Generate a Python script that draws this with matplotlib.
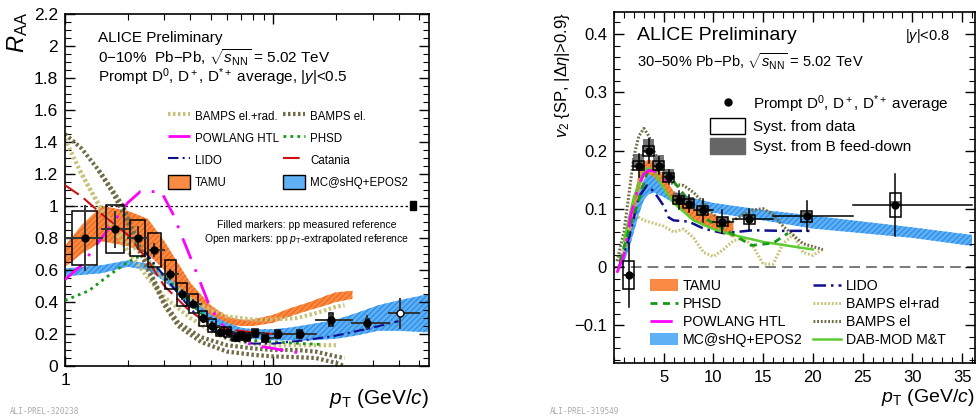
import numpy as np
import matplotlib
matplotlib.use("Agg")
import matplotlib.pyplot as plt
from matplotlib.legend import Legend
from matplotlib.patches import Rectangle, Patch
from matplotlib.lines import Line2D
from matplotlib.ticker import FixedLocator, MultipleLocator, NullFormatter

plt.rcParams['font.family'] = ['Liberation Sans', 'DejaVu Sans']
plt.rcParams['mathtext.fontset'] = 'custom'
plt.rcParams['mathtext.rm'] = 'Liberation Sans'
plt.rcParams['mathtext.it'] = 'Liberation Sans:italic'

# ---------------- left panel: R_AA 0-10% ----------------
raa_pt = [1.25, 1.74, 2.23, 2.69, 3.2, 3.65, 4.14, 4.62, 5.09, 5.56, 6.05, 6.59, 7.0, 7.47,
          8.2, 9.15, 10.5, 13.4, 18.9, 28.3, 40.5]
raa_lo = [1, 1.5, 2, 2.5, 3, 3.5, 4, 4.5, 5, 5.5, 6, 6.5, 7, 7.5, 8, 9, 10, 12, 16, 24, 36]
raa_hi = [1.5, 2, 2.5, 3, 3.5, 4, 4.5, 5, 5.5, 6, 6.5, 7, 7.5, 8, 9, 10, 12, 16, 24, 36, 50]
raa_val = [0.80, 0.855, 0.80, 0.725, 0.573, 0.448, 0.39, 0.298, 0.252, 0.215, 0.212, 0.18, 0.185,
           0.18, 0.205, 0.178, 0.20, 0.20, 0.29, 0.27, 0.33]
raa_stat = [0.2, 0.11, 0.07, 0.04, 0.03, 0.03, 0.02, 0.02, 0.02, 0.02, 0.02, 0.02, 0.02, 0.02,
            0.02, 0.02, 0.02, 0.02, 0.04, 0.04, 0.09]
raa_syst = [0.17, 0.15, 0.115, 0.105, 0.09, 0.07, 0.06, 0.045, 0.04, 0.03, 0.03, 0.025, 0.025,
            0.025, 0.025, 0.025, 0.025, 0.025, 0.04, 0.025, 0.0]
raa_open = [False] * 20 + [True]

tamu_pt = [1.0, 1.2, 1.5, 2.0, 2.5, 3.0, 3.5, 4.0, 5.0, 6.0, 7.0, 8.0, 10, 12, 15, 18, 20, 24]
tamu_up = [0.75, 0.88, 1.0, 0.97, 0.92, 0.78, 0.64, 0.52, 0.38, 0.31, 0.29, 0.29, 0.32, 0.36, 0.40, 0.44, 0.46, 0.47]
tamu_dn = [0.62, 0.70, 0.78, 0.75, 0.70, 0.60, 0.48, 0.40, 0.30, 0.26, 0.25, 0.25, 0.27, 0.31, 0.35, 0.38, 0.40, 0.42]

mcs_pt = [1.0, 1.5, 2.0, 2.5, 3.0, 3.5, 4.0, 5.0, 6.0, 7.0, 8.0, 10, 12, 15, 20, 25, 32, 40, 56]
mcs_up = [0.61, 0.63, 0.66, 0.64, 0.58, 0.50, 0.43, 0.32, 0.27, 0.24, 0.23, 0.23, 0.24, 0.26, 0.29, 0.33, 0.38, 0.41, 0.45]
mcs_dn = [0.56, 0.58, 0.62, 0.60, 0.53, 0.45, 0.38, 0.27, 0.21, 0.18, 0.17, 0.16, 0.16, 0.16, 0.17, 0.19, 0.22, 0.22, 0.21]

bampsr_pt1 = [1, 1.2, 1.5, 2, 2.5, 3, 4, 5, 6, 8, 10, 13, 16, 20, 22]
bampsr_v1 = [1.42, 1.2, 0.97, 0.78, 0.66, 0.55, 0.42, 0.35, 0.31, 0.29, 0.29, 0.30, 0.33, 0.37, 0.38]
bampsr_pt2 = [1.18, 1.5, 2, 2.5, 3, 4, 5, 6, 8, 10, 13, 16, 20]
bampsr_v2 = [1.22, 0.98, 0.72, 0.55, 0.43, 0.30, 0.22, 0.17, 0.14, 0.13, 0.13, 0.13, 0.13]

bampse_pt1 = [1, 1.2, 1.5, 1.9, 2.5, 3, 3.5, 4.5, 6, 8, 10, 13, 16, 20, 22]
bampse_v1 = [1.45, 1.36, 1.2, 1.0, 0.62, 0.40, 0.27, 0.18, 0.13, 0.11, 0.10, 0.10, 0.09, 0.06, 0.05]
bampse_pt2 = [1.45, 1.7, 2, 2.5, 3, 3.5, 4.5, 6, 8, 10, 13, 16, 20, 22]
bampse_v2 = [1.22, 1.08, 0.9, 0.6, 0.38, 0.25, 0.15, 0.09, 0.07, 0.06, 0.055, 0.05, 0.02, 0.0]

powl_pt = [1, 1.2, 1.5, 2, 2.3, 2.9, 3.3, 4, 5, 6, 7, 8, 10, 12, 14]
powl_v = [0.54, 0.63, 0.80, 1.02, 1.09, 1.09, 0.95, 0.68, 0.36, 0.22, 0.16, 0.13, 0.11, 0.09, 0.08]

phsd_pt = [1, 1.3, 1.6, 2.0, 2.4, 3, 4, 5, 6, 8, 10, 14, 17]
phsd_v = [0.41, 0.47, 0.56, 0.65, 0.70, 0.56, 0.40, 0.27, 0.20, 0.16, 0.15, 0.14, 0.135]

lido_pt = [2.4, 3, 4, 5, 6, 8, 10, 14, 20, 30, 40]
lido_v = [0.72, 0.56, 0.36, 0.23, 0.17, 0.14, 0.14, 0.16, 0.19, 0.24, 0.28]

cat_pt = [1, 1.2, 1.5, 2, 2.5, 3, 4, 5, 6, 8, 10, 12]
cat_v = [1.13, 1.06, 0.95, 0.82, 0.66, 0.50, 0.34, 0.26, 0.23, 0.21, 0.20, 0.20]

# ---------------- right panel: v2 30-50% ----------------
v2_pt = [1.5, 2.5, 3.5, 4.5, 5.5, 6.5, 7.5, 8.9, 10.9, 13.6, 19.4, 28.3]
v2_lo = [1, 2, 3, 4, 5, 6, 7, 8, 10, 12, 16, 24]
v2_hi = [2, 3, 4, 5, 6, 7, 8, 10, 12, 16, 24, 36]
v2_val = [-0.014, 0.174, 0.199, 0.174, 0.154, 0.115, 0.109, 0.097, 0.078, 0.082, 0.087, 0.106]
v2_stat = [0.055, 0.02, 0.02, 0.015, 0.012, 0.015, 0.015, 0.02, 0.02, 0.018, 0.026, 0.053]
v2_syst = [0.024, 0.008, 0.008, 0.008, 0.008, 0.007, 0.007, 0.007, 0.008, 0.008, 0.009, 0.021]
v2_fd_up = [0.0, 0.02, 0.02, 0.018, 0.015, 0.012, 0.012, 0.01, 0.008, 0.008, 0.008, 0.008]
v2_fd_dn = [0.0, 0.004, 0.004, 0.004, 0.003, 0.003, 0.003, 0.003, 0.002, 0.002, 0.002, 0.002]

tamu2_pt = [0.5, 1, 1.5, 2, 2.5, 3, 3.5, 4, 5, 6, 7, 8, 9, 10, 11, 12]
tamu2_up = [0.01, 0.03, 0.07, 0.12, 0.16, 0.18, 0.185, 0.18, 0.155, 0.13, 0.115, 0.10, 0.095, 0.09, 0.085, 0.075]
tamu2_dn = [0.0, 0.02, 0.05, 0.09, 0.13, 0.155, 0.16, 0.155, 0.135, 0.11, 0.095, 0.08, 0.07, 0.065, 0.06, 0.05]

mcs2_pt = [0.8, 1.5, 2, 2.5, 3, 3.5, 4, 5, 6, 8, 10, 12, 15, 20, 25, 30, 36]
mcs2_up = [0.01, 0.05, 0.09, 0.13, 0.15, 0.16, 0.158, 0.145, 0.13, 0.118, 0.11, 0.105, 0.098, 0.088, 0.078, 0.068, 0.055]
mcs2_dn = [0.0, 0.03, 0.06, 0.09, 0.115, 0.125, 0.128, 0.12, 0.11, 0.10, 0.093, 0.088, 0.08, 0.066, 0.058, 0.05, 0.036]

phsd2_pt = [0.6, 1.6, 2.4, 3.4, 4.4, 5.9, 7.7, 9.5, 11.3, 13.8, 16.0, 17.5]
phsd2_v = [0.01, 0.07, 0.11, 0.166, 0.166, 0.149, 0.11, 0.08, 0.063, 0.037, 0.041, 0.058]

powl2_pt = [0.3, 1, 1.7, 2.5, 3, 3.5, 4, 4.5, 5.4]
powl2_v = [-0.01, 0.02, 0.09, 0.14, 0.16, 0.166, 0.165, 0.16, 0.146]

lido2_pt = [0.5, 1.5, 2.5, 3.3, 4, 5, 5.5, 6, 7.5, 9, 11, 14, 17, 20]
lido2_v = [0.0, 0.05, 0.12, 0.14, 0.13, 0.105, 0.085, 0.08, 0.078, 0.066, 0.058, 0.063, 0.062, 0.062]

dab_pt = [1, 2, 3, 3.5, 4, 5, 6, 8, 10, 12, 15, 20]
dab_v = [0.045, 0.12, 0.165, 0.17, 0.165, 0.135, 0.11, 0.08, 0.065, 0.055, 0.043, 0.03]

br2_pt = [0.3, 1, 1.5, 2, 2.5, 3, 4, 5, 6, 7, 8, 9, 10, 11, 12, 13, 14, 15, 16, 17, 18, 19, 20, 21]
br2_v = [0.01, 0.03, 0.07, 0.09, 0.085, 0.08, 0.075, 0.07, 0.06, 0.065, 0.05, 0.025, 0.018, 0.03,
         0.045, 0.05, 0.035, 0.005, 0.005, 0.04, 0.055, 0.025, 0.02, 0.03]

be2_pt = [0.3, 1, 2, 2.5, 3, 3.5, 4, 5, 5.5, 6, 7, 8, 9, 10, 11, 12, 13, 14, 15, 16, 17, 18, 19, 20, 21]
be2_v = [0.01, 0.06, 0.19, 0.225, 0.238, 0.225, 0.2, 0.16, 0.148, 0.142, 0.14, 0.128, 0.11, 0.09,
         0.075, 0.08, 0.09, 0.098, 0.1, 0.09, 0.07, 0.055, 0.04, 0.035, 0.03]

c_tamu = '#f98b44'
c_tamu_h = '#f26a1b'
c_mcs = '#5fb0f5'
c_mcs_h = '#2f8fe8'
c_br = '#c9c27c'
c_be = '#6f6c47'
c_powl = '#ff00ff'
c_phsd = '#139a13'
c_lido = '#10108f'
c_cat = '#cc1010'
c_dab = '#5ecb32'

fig = plt.figure(figsize=(9.8, 4.18), dpi=100)


def root_ticks(ax):
    ax.tick_params(which='both', direction='in', top=True, right=True)
    ax.tick_params(which='major', length=7, width=1)
    ax.tick_params(which='minor', length=4, width=0.8)
    for s in ax.spines.values():
        s.set_linewidth(1.2)


def add_leg(ax, handles, labels, anchor, **kw):
    leg = Legend(ax, handles, labels, frameon=False, loc='upper left', bbox_to_anchor=anchor,
                 bbox_transform=ax.transAxes, borderaxespad=0, borderpad=0, **kw)
    ax.add_artist(leg)
    return leg


# ================= left panel =================
ax1 = fig.add_axes([65 / 980, 1 - 366 / 418, 364 / 980, 352 / 418])
ax1.set_xscale('log')
ax1.set_xlim(1, 56)
ax1.set_ylim(0, 2.2)

ax1.fill_between(tamu_pt, tamu_dn, tamu_up, facecolor=c_tamu, edgecolor=c_tamu_h,
                 hatch='//////', linewidth=0, zorder=1)
ax1.fill_between(mcs_pt, mcs_dn, mcs_up, facecolor=c_mcs, edgecolor=c_mcs_h,
                 hatch='//////', linewidth=0, zorder=1)
ax1.plot(bampsr_pt1, bampsr_v1, color=c_br, lw=3, ls=(0, (0.6, 0.6)), zorder=2)
ax1.plot(bampsr_pt2, bampsr_v2, color=c_br, lw=3, ls=(0, (0.6, 0.6)), zorder=2)
ax1.plot(bampse_pt1, bampse_v1, color=c_be, lw=3, ls=(0, (0.6, 0.6)), zorder=2)
ax1.plot(bampse_pt2, bampse_v2, color=c_be, lw=3, ls=(0, (0.6, 0.6)), zorder=2)
ax1.plot(powl_pt, powl_v, color=c_powl, lw=2, ls=(0, (8, 4, 1, 4)), zorder=3)
ax1.plot(phsd_pt, phsd_v, color=c_phsd, lw=2, ls=(0, (1, 1.5)), zorder=3)
ax1.plot(lido_pt, lido_v, color=c_lido, lw=1.5, ls=(0, (5, 2, 1, 2)), zorder=3)
ax1.plot(cat_pt, cat_v, color=c_cat, lw=1.5, ls=(0, (8, 3)), zorder=3)

ax1.axhline(1, color='black', lw=0.9, ls=(0, (2, 2)), xmax=0.955, zorder=1)
ax1.add_patch(Rectangle((45.5, 0.975), 3.0, 0.055, facecolor='black', edgecolor='black', zorder=5))

for i in range(len(raa_pt)):
    pt = raa_pt[i]
    hw = 0.15 + 0.014 * pt
    if raa_syst[i] > 0:
        ax1.add_patch(Rectangle((pt - hw, raa_val[i] - raa_syst[i]), 2 * hw, 2 * raa_syst[i],
                                fill=False, edgecolor='black', lw=1.1, zorder=5))
    ax1.plot([raa_lo[i], raa_hi[i]], [raa_val[i], raa_val[i]], color='#333333', lw=1.4, zorder=6)
    ax1.plot([pt, pt], [raa_val[i] - raa_stat[i], raa_val[i] + raa_stat[i]], color='#333333',
             lw=1.4, zorder=6)
    ax1.plot(pt, raa_val[i], 'o', ms=5, mfc='white' if raa_open[i] else 'black',
             mec='black', mew=1.0, zorder=7)

ax1.xaxis.set_major_locator(FixedLocator([1, 10]))
ax1.set_xticklabels(['1', '10'])
ax1.xaxis.set_minor_locator(FixedLocator([2, 3, 4, 5, 6, 7, 8, 9, 20, 30, 40, 50]))
ax1.xaxis.set_minor_formatter(NullFormatter())
ax1.set_yticks(np.arange(0, 2.21, 0.2))
ax1.set_yticklabels(['0', '0.2', '0.4', '0.6', '0.8', '1', '1.2', '1.4', '1.6', '1.8', '2', '2.2'])
ax1.yaxis.set_minor_locator(MultipleLocator(0.05))
root_ticks(ax1)
ax1.tick_params(which='major', labelsize=12.5, pad=5)

ax1.text(0.09, 0.933, 'ALICE Preliminary', transform=ax1.transAxes, fontsize=11, va='center')
ax1.text(0.09, 0.877, r'0$-$10%  Pb$-$Pb, $\sqrt{s_{\rm NN}}$ = 5.02 TeV', transform=ax1.transAxes,
         fontsize=11, va='center')
ax1.text(0.09, 0.82, r'Prompt D$^0$, D$^+$, D$^{*+}$ average, |$y$|<0.5', transform=ax1.transAxes,
         fontsize=11, va='center')
ax1.text(0.665, 0.40, 'Filled markers: pp measured reference', transform=ax1.transAxes,
         fontsize=7.5, ha='center', va='center')
ax1.text(0.665, 0.362, r'Open markers: pp $p_{\rm T}$-extrapolated reference', transform=ax1.transAxes,
         fontsize=7.5, ha='center', va='center')

leg_kw_l = dict(fontsize=8.3, handlelength=1.9, handleheight=1.5, labelspacing=0.68,
                handletextpad=0.45)
add_leg(ax1,
        [Line2D([], [], color=c_br, lw=3, ls=(0, (0.6, 0.6))),
         Line2D([], [], color=c_powl, lw=2, ls=(0, (8, 4, 1, 4))),
         Line2D([], [], color=c_lido, lw=1.5, ls=(0, (5, 2, 1, 2))),
         Patch(facecolor=c_tamu, edgecolor='black', lw=1)],
        ['BAMPS el.+rad.', 'POWLANG HTL', 'LIDO', 'TAMU'],
        ((168 - 65) / 364, (366 - 109) / 352), **leg_kw_l)
add_leg(ax1,
        [Line2D([], [], color=c_be, lw=3, ls=(0, (0.6, 0.6))),
         Line2D([], [], color=c_phsd, lw=2, ls=(0, (1, 1.5))),
         Line2D([], [], color=c_cat, lw=1.5, ls=(0, (8, 3))),
         Patch(facecolor=c_mcs, edgecolor='black', lw=1)],
        ['BAMPS el.', 'PHSD', 'Catania', 'MC@sHQ+EPOS2'],
        ((283 - 65) / 364, (366 - 109) / 352), **leg_kw_l)

fig.text(18 / 980, 1 - 12 / 418, r'$R_{\rm AA}$', rotation=90, fontsize=17, ha='center', va='top')
fig.text(429 / 980, 1 - 398 / 418, r'$p_{\rm T}$ (GeV/$c$)', fontsize=15, ha='right', va='center')
fig.text(10 / 980, 4 / 418, 'ALI-PREL-320238', fontsize=5.5, color='#aaaaaa', family='DejaVu Sans Mono')

# ================= right panel =================
ax2 = fig.add_axes([614 / 980, 1 - 363 / 418, 361 / 980, 351 / 418])
ax2.set_xlim(0, 36.3)
ax2.set_ylim(-0.165, 0.438)

ax2.axhline(0, color='#555555', lw=1.1, ls=(0, (7, 4)), zorder=1)
ax2.fill_between(mcs2_pt, mcs2_dn, mcs2_up, facecolor=c_mcs, edgecolor=c_mcs_h,
                 hatch='//////', linewidth=0, zorder=1)
ax2.fill_between(tamu2_pt, tamu2_dn, tamu2_up, facecolor=c_tamu, edgecolor=c_tamu_h,
                 hatch='//////', linewidth=0, zorder=2)
ax2.plot(br2_pt, br2_v, color=c_br, lw=2.2, ls=(0, (0.6, 0.6)), zorder=3)
ax2.plot(be2_pt, be2_v, color=c_be, lw=2.2, ls=(0, (0.6, 0.6)), zorder=3)
ax2.plot(lido2_pt, lido2_v, color=c_lido, lw=1.8, ls=(0, (5, 2, 1, 2)), zorder=4)
ax2.plot(dab_pt, dab_v, color=c_dab, lw=1.8, zorder=4)
ax2.plot(phsd2_pt, phsd2_v, color=c_phsd, lw=2, ls=(0, (2.5, 2)), zorder=4)
ax2.plot(powl2_pt, powl2_v, color=c_powl, lw=2, ls=(0, (8, 4, 1, 4)), zorder=4)

for i in range(len(v2_pt)):
    pt = v2_pt[i]
    hw = 0.55
    ax2.add_patch(Rectangle((pt - hw, v2_val[i] - v2_fd_dn[i]), 2 * hw, v2_fd_up[i] + v2_fd_dn[i],
                            facecolor='#666666', edgecolor='none', alpha=0.9, zorder=5))
    ax2.add_patch(Rectangle((pt - hw, v2_val[i] - v2_syst[i]), 2 * hw, 2 * v2_syst[i],
                            fill=False, edgecolor='black', lw=1.1, zorder=6))
    ax2.plot([v2_lo[i], v2_hi[i]], [v2_val[i], v2_val[i]], color='black', lw=1.1, zorder=7)
    ax2.plot([pt, pt], [v2_val[i] - v2_stat[i], v2_val[i] + v2_stat[i]], color='black',
             lw=1.1, zorder=7)
ax2.plot(v2_pt, v2_val, 'o', ms=5, color='black', zorder=8)

ax2.xaxis.set_major_locator(FixedLocator([5, 10, 15, 20, 25, 30, 35]))
ax2.xaxis.set_minor_locator(MultipleLocator(1))
ax2.set_yticks([-0.1, 0, 0.1, 0.2, 0.3, 0.4])
ax2.set_yticklabels(['\u22120.1', '0', '0.1', '0.2', '0.3', '0.4'])
ax2.yaxis.set_minor_locator(MultipleLocator(0.02))
root_ticks(ax2)
ax2.tick_params(which='major', labelsize=12, pad=5)

ax2.text(0.063, 0.932, 'ALICE Preliminary', transform=ax2.transAxes, fontsize=14, va='center')
ax2.text(0.93, 0.932, r'|$y$|<0.8', transform=ax2.transAxes, fontsize=10.5, va='center', ha='right')
ax2.text(0.063, 0.858, r'30$-$50% Pb$-$Pb, $\sqrt{s_{\rm NN}}$ = 5.02 TeV', transform=ax2.transAxes,
         fontsize=10.5, va='center')

add_leg(ax2,
        [Line2D([], [], color='black', marker='o', ms=5, ls='none'),
         Patch(facecolor='white', edgecolor='black', lw=1),
         Patch(facecolor='#666666', edgecolor='#666666')],
        [r'Prompt D$^0$, D$^+$, D$^{*+}$ average', 'Syst. from data', 'Syst. from B feed-down'],
        ((710 - 614) / 361, (363 - 93) / 351),
        fontsize=11, handlelength=2.3, handleheight=1.2, labelspacing=0.25, handletextpad=0.5)

leg_kw_r = dict(fontsize=10.2, handlelength=1.95, handleheight=0.9, labelspacing=0.28,
                handletextpad=0.35)
add_leg(ax2,
        [Patch(facecolor=c_tamu, edgecolor='none'),
         Line2D([], [], color=c_phsd, lw=2, ls=(0, (2.5, 2))),
         Line2D([], [], color=c_powl, lw=2, ls=(0, (8, 4, 1, 4))),
         Patch(facecolor=c_mcs, edgecolor='none')],
        ['TAMU', 'PHSD', 'POWLANG HTL', 'MC@sHQ+EPOS2'],
        ((650 - 614) / 361, (363 - 279) / 351), **leg_kw_r)
add_leg(ax2,
        [Line2D([], [], color=c_lido, lw=1.8, ls=(0, (5, 2, 1, 2))),
         Line2D([], [], color=c_br, lw=2.2, ls=(0, (0.6, 0.6))),
         Line2D([], [], color=c_be, lw=2.2, ls=(0, (0.6, 0.6))),
         Line2D([], [], color=c_dab, lw=1.8)],
        ['LIDO', 'BAMPS el+rad', 'BAMPS el', 'DAB-MOD M&T'],
        ((813 - 614) / 361, (363 - 279) / 351), **leg_kw_r)

fig.text(562 / 980, 1 - 12 / 418, r'$v_2$ {SP, |$\Delta\eta$|>0.9}', rotation=90, fontsize=12,
         ha='center', va='top')
fig.text(975 / 980, 1 - 398 / 418, r'$p_{\rm T}$ (GeV/$c$)', fontsize=14, ha='right', va='center')
fig.text(550 / 980, 4 / 418, 'ALI-PREL-319549', fontsize=5.5, color='#aaaaaa', family='DejaVu Sans Mono')

fig.savefig('out.png', dpi=100)
